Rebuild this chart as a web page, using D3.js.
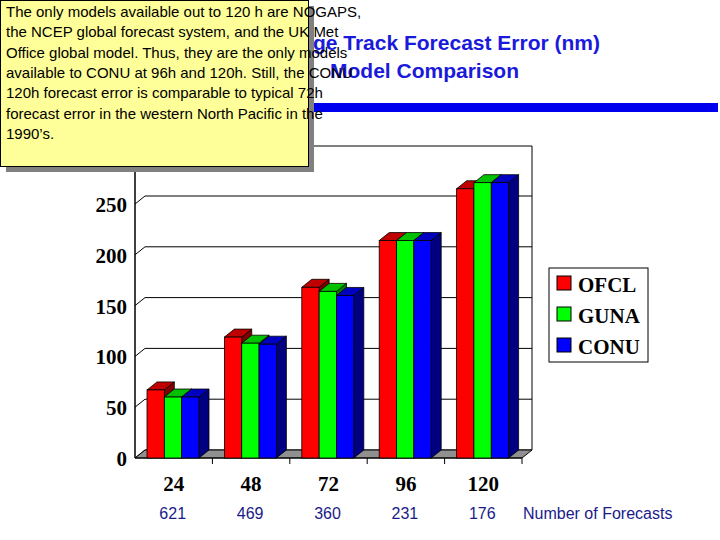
<!DOCTYPE html>
<html><head><meta charset="utf-8">
<script src="https://cdn.jsdelivr.net/npm/d3@7"></script>
<style>body{margin:0;background:#fff}</style></head>
<body><svg id="c" width="720" height="540"></svg>
<script>
const categories = ["24","48","72","96","120"];
const counts = ["621","469","360","231","176"];
const seriesNames = ["OFCL","GUNA","CONU"];
const OFCL = [67,119,168,214,265];
const GUNA = [60,113,164,214,271];
const CONU = [60,112,160,214,271];
const yTicks = [0,50,100,150,200,250];
const noteLines = ["The only models available out to 120 h are NOGAPS,",
"the NCEP global forecast system, and the UK Met",
"Office global model.  Thus, they are the only models",
"available to CONU at 96h and 120h.  Still, the CONU",
"120h forecast error is comparable to typical 72h",
"forecast error in the western North Pacific in the",
"1990\u2019s."];

(function(){
const svg = d3.select("#c");
const fronts = ["#ff0000","#00ff00","#0000ff"], tops=["#c00000","#00c000","#0000c0"], sides=["#800000","#008000","#000080"];
const dx=10, dy=8;
const x = d3.scaleBand().domain(categories).range([135,522]);
const y = d3.scaleLinear().domain([0,250]).range([458,204]);
const wallTop = 146;

const t = svg.append("g").attr("fill","#1a1adb").attr("font-family","Liberation Sans, Arial").attr("font-weight","bold").attr("font-size","21px").attr("text-anchor","end");
t.append("text").attr("x",600).attr("y",50).text("Average Track Forecast Error (nm)");
t.append("text").attr("x",519).attr("y",78).text("Model Comparison");
svg.append("rect").attr("x",200).attr("y",103).attr("width",518).attr("height",9).attr("fill","#0000ee");

svg.append("polygon").attr("points",[[135,wallTop+dy],[135+dx,wallTop],[522+dx,wallTop],[522+dx,y(0)-dy],[135+dx,y(0)-dy],[135,y(0)]].join(" ")).attr("fill","#fff").attr("stroke","#000");
svg.append("polygon").attr("points",[[135,y(0)],[135+dx,y(0)-dy],[522+dx,y(0)-dy],[522,y(0)]].join(" ")).attr("fill","#909090").attr("stroke","#000");
yTicks.slice(1).forEach(v=>{
  svg.append("polyline").attr("points",[[135,y(v)],[135+dx,y(v)-dy],[522+dx,y(v)-dy]].join(" ")).attr("fill","none").attr("stroke","#000");
});
svg.append("line").attr("x1",135).attr("x2",135).attr("y1",wallTop+dy).attr("y2",y(0)).attr("stroke","#000");
svg.append("line").attr("x1",135).attr("x2",522).attr("y1",y(0)).attr("y2",y(0)).attr("stroke","#000");
categories.forEach((c,i)=>{ if(i>0) svg.append("line").attr("x1",x(c)).attr("x2",x(c)).attr("y1",y(0)).attr("y2",y(0)+6).attr("stroke","#000");});
svg.append("line").attr("x1",522).attr("x2",522).attr("y1",y(0)).attr("y2",y(0)+6).attr("stroke","#000");

const serif = "Liberation Serif, Times New Roman";
svg.append("g").selectAll("text").data(yTicks).join("text").attr("x",127).attr("y",d=>y(d)+8).attr("text-anchor","end")
 .attr("font-family",serif).attr("font-weight","bold").attr("font-size","21px").text(d=>d);
svg.append("g").selectAll("text").data(categories).join("text").attr("x",d=>x(d)+x.bandwidth()/2).attr("y",491).attr("text-anchor","middle")
 .attr("font-family",serif).attr("font-weight","bold").attr("font-size","21px").text(d=>d);
svg.append("g").selectAll("text").data(counts).join("text").attr("x",(d,i)=>x(categories[i])+x.bandwidth()/2-1).attr("y",519).attr("text-anchor","middle")
 .attr("font-family","Liberation Sans, Arial").attr("font-size","16px").attr("fill","#1a1a8a").text(d=>d);
svg.append("text").attr("x",523).attr("y",519).attr("font-family","Liberation Sans, Arial").attr("font-size","16px").attr("fill","#1a1a8a").text("Number of Forecasts");

const inner = d3.scaleBand().domain(seriesNames).range([0,52]);
const data=[OFCL,GUNA,CONU];
categories.forEach((c,i)=>{
  seriesNames.forEach((s,j)=>{
    const v=data[j][i], x0=x(c)+12+inner(s), w=inner.bandwidth(), yt=y(v), yb=y(0);
    const g=svg.append("g").attr("stroke","#000").attr("stroke-width",0.8);
    g.append("polygon").attr("points",[[x0+w,yt],[x0+w+dx,yt-dy],[x0+w+dx,yb-dy],[x0+w,yb]].join(" ")).attr("fill",sides[j]);
    g.append("polygon").attr("points",[[x0,yt],[x0+dx,yt-dy],[x0+w+dx,yt-dy],[x0+w,yt]].join(" ")).attr("fill",tops[j]);
    g.append("rect").attr("x",x0).attr("y",yt).attr("width",w).attr("height",yb-yt).attr("fill",fronts[j]);
  });
});

svg.append("rect").attr("x",549).attr("y",268).attr("width",99).attr("height",94).attr("fill","#fff").attr("stroke","#000");
seriesNames.forEach((s,j)=>{
  svg.append("rect").attr("x",557).attr("y",276+j*31).attr("width",14).attr("height",14).attr("fill",fronts[j]).attr("stroke","#000");
  svg.append("text").attr("x",578).attr("y",292+j*31).attr("font-family",serif).attr("font-weight","bold").attr("font-size","21px").text(s);
});

svg.append("rect").attr("x",6).attr("y",6).attr("width",308).attr("height",166).attr("fill","#808080");
svg.append("rect").attr("x",0.5).attr("y",0.5).attr("width",308).attr("height",166).attr("fill","#ffff99").attr("stroke","#000");
svg.append("g").selectAll("text").data(noteLines).join("text").attr("x",6).attr("y",(d,i)=>17+i*20.3)
 .attr("font-family","Liberation Sans, Arial").attr("font-size","15px").attr("fill","#000").text(d=>d);
})();
</script></body></html>
